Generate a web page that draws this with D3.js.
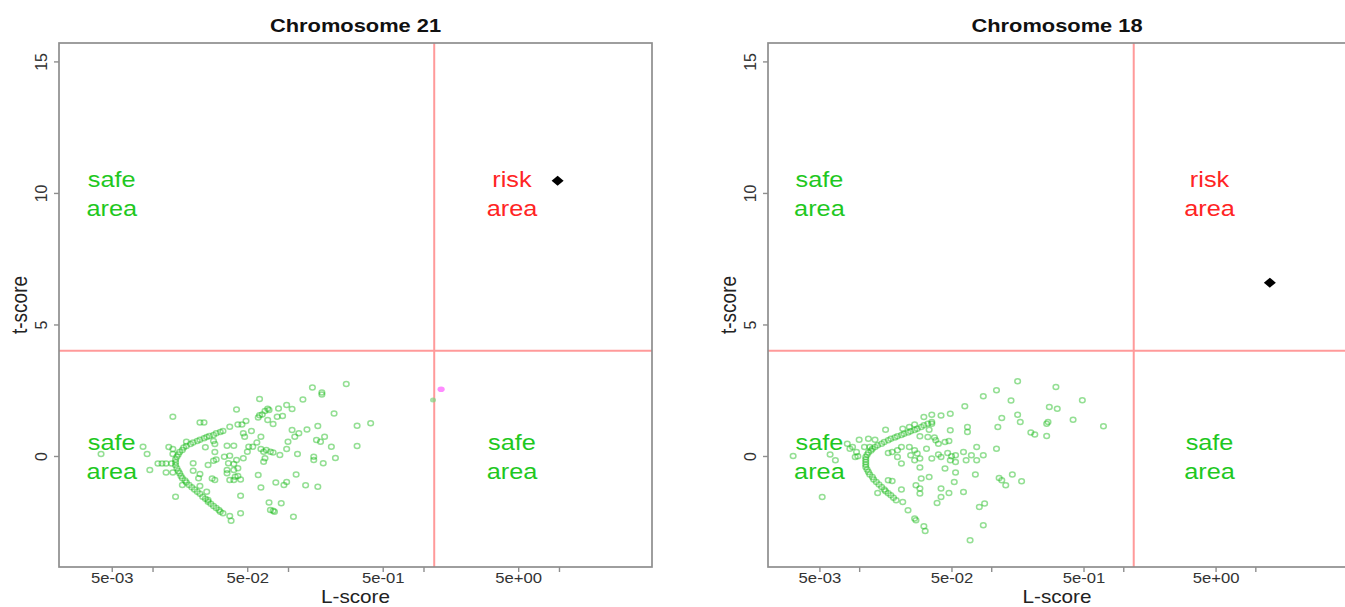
<!DOCTYPE html>
<html>
<head>
<meta charset="utf-8">
<script src="https://cdn.jsdelivr.net/npm/d3@7"></script>
<style>
  body { margin: 0; background: #fff; }
  svg { display: block; }
</style>
</head>
<body>
<svg id="chart" width="1345" height="607"></svg>
<script>
// values are [log10(L-score), t-score]
const chr21Curve = [
  [-1.48,0.95],[-1.50,0.91],[-1.53,0.86],[-1.55,0.80],[-1.58,0.76],[-1.60,0.72],[-1.62,0.67],[-1.65,0.62],
  [-1.67,0.57],[-1.70,0.51],[-1.72,0.46],[-1.75,0.38],[-1.77,0.32],[-1.78,0.23],[-1.80,0.15],[-1.81,0.06],
  [-1.82,-0.03],[-1.83,-0.13],[-1.83,-0.24],[-1.83,-0.35],[-1.82,-0.47],[-1.81,-0.57],[-1.80,-0.66],[-1.79,-0.76],
  [-1.78,-0.85],[-1.76,-0.93],[-1.75,-1.01],[-1.73,-1.10],[-1.71,-1.19],[-1.69,-1.27],[-1.67,-1.36],[-1.65,-1.44],
  [-1.63,-1.55],[-1.61,-1.63],[-1.59,-1.74],[-1.57,-1.82],[-1.55,-1.90],[-1.53,-1.98],[-1.51,-2.05],[-1.50,-2.12],
  [-1.48,-2.18]
];
const chr21Scatter = [
  [-2.38,0.08],[-2.07,0.35],[-2.04,0.08],[-2.02,-0.53],[-1.85,1.49],[-1.65,1.27],[-1.62,1.27],[-1.88,0.34],
  [-1.85,0.27],[-1.96,-0.29],[-1.93,-0.29],[-1.90,-0.29],[-1.86,-0.29],[-1.90,-0.63],[-1.85,-0.63],[-1.83,-1.55],
  [-1.78,-1.10],[-1.70,-0.28],[-1.70,-0.56],[-1.75,0.54],[-1.65,-0.68],[-1.66,-0.85],[-1.60,-1.36],[-1.59,-1.67],
  [-1.54,0.15],[-1.55,-0.18],[-1.55,0.57],[-1.54,0.46],[-1.61,0.33],[-1.56,-0.86],[-1.54,-0.91],[-1.65,-1.14],
  [-1.38,1.77],[-1.21,2.17],[-1.43,1.11],[-1.37,1.20],[-1.34,1.20],[-1.31,1.33],[-1.45,0.39],[-1.40,0.39],
  [-1.33,0.86],[-1.32,0.73],[-1.27,0.95],[-1.29,0.35],[-1.30,0.16],[-1.26,0.35],[-1.53,-0.13],[-1.47,-0.03],
  [-1.43,0.01],[-1.44,-0.28],[-1.40,-0.30],[-1.38,-0.15],[-1.37,-0.47],[-1.40,-0.53],[-1.45,-0.53],[-1.45,-0.66],
  [-1.43,-0.91],[-1.40,-0.91],[-1.39,-0.79],[-1.37,-0.76],[-1.35,-0.89],[-1.35,-1.51],[-1.35,-2.18],[-1.43,-2.28],
  [-1.42,-2.46],[-1.22,1.46],[-1.21,1.55],[-1.19,1.58],[-1.17,1.71],[-1.15,1.80],[-1.14,1.75],[-1.07,1.81],
  [-1.01,1.94],[-0.97,1.79],[-1.04,1.52],[-1.08,1.49],[-1.15,1.37],[-1.11,1.22],[-1.23,0.51],[-1.20,0.73],
  [-1.20,0.27],[-1.18,0.16],[-1.16,0.23],[-1.13,0.16],[-1.11,0.13],[-1.17,-0.09],[-1.18,-0.22],[-1.22,-0.72],
  [-1.20,-1.20],[-1.14,-1.77],[-1.13,-2.05],[-1.11,-2.08],[-1.10,-2.12],[-1.05,-1.80],[-1.09,-1.01],[-1.03,-1.10],
  [-1.01,-0.99],[-1.06,0.04],[-1.01,0.27],[-1.00,0.54],[-0.97,0.99],[-0.95,0.73],[-0.92,0.86],[-0.89,2.15],
  [-0.86,1.01],[-0.94,-0.70],[-0.96,-2.31],[-0.93,0.08],[-0.87,-1.11],[-0.82,2.60],[-0.75,2.41],[-0.75,2.34],
  [-0.57,2.74],[-0.66,1.62],[-0.78,1.14],[-0.79,0.61],[-0.76,0.54],[-0.73,0.73],[-0.81,-0.03],[-0.81,-0.15],
  [-0.74,-0.28],[-0.68,0.35],[-0.65,-0.08],[-0.78,-1.17],[-0.49,1.15],[-0.39,1.24],[-0.49,0.38],[-1.33,-0.09],
  [-1.59,-0.34],[-1.85,0.08]
];
const chr21Faint = [[0.07,2.13]];
const chr21Flagged = [[0.13,2.54]];
const chr21Marker = [0.99,10.46];

const chr18Curve = [
  [-1.45,1.29],[-1.45,1.23],[-1.48,1.23],[-1.51,1.17],[-1.53,1.10],[-1.56,1.04],[-1.58,0.99],[-1.61,0.94],
  [-1.63,0.89],[-1.66,0.85],[-1.68,0.80],[-1.71,0.75],[-1.73,0.70],[-1.76,0.66],[-1.78,0.60],[-1.81,0.53],
  [-1.83,0.47],[-1.86,0.41],[-1.88,0.34],[-1.90,0.28],[-1.91,0.21],[-1.93,0.13],[-1.94,0.05],[-1.95,-0.04],
  [-1.95,-0.13],[-1.95,-0.23],[-1.95,-0.32],[-1.95,-0.42],[-1.94,-0.51],[-1.93,-0.61],[-1.92,-0.70],[-1.90,-0.80],
  [-1.89,-0.89],[-1.87,-0.99],[-1.85,-1.08],[-1.83,-1.18],[-1.81,-1.27],[-1.80,-1.34],[-1.78,-1.42],[-1.76,-1.49],
  [-1.74,-1.59],[-1.72,-1.68]
];
const chr18Scatter = [
  [-2.50,0.00],[-2.28,-1.56],[-2.22,0.06],[-2.18,-0.16],[-2.09,0.47],[-2.07,0.28],[-2.05,0.34],[-2.02,0.15],
  [-2.01,-0.01],[-2.03,-0.04],[-2.00,0.62],[-1.93,0.66],[-1.88,0.62],[-1.96,0.34],[-1.92,0.34],[-1.86,-1.41],
  [-1.80,1.00],[-1.78,-0.92],[-1.75,-0.95],[-1.78,0.11],[-1.75,0.15],[-1.71,0.22],[-1.68,0.34],[-1.71,-0.04],
  [-1.68,-0.29],[-1.62,0.34],[-1.61,0.03],[-1.58,0.22],[-1.56,0.09],[-1.54,-0.10],[-1.58,-0.16],[-1.68,-1.27],
  [-1.67,-1.75],[-1.63,-2.06],[-1.58,-2.38],[-1.57,-2.44],[-1.57,-1.11],[-1.54,-1.24],[-1.54,-1.43],[-1.53,-0.86],
  [-1.54,0.75],[-1.48,0.72],[-1.43,0.70],[-1.42,0.60],[-1.40,0.47],[-1.40,0.06],[-1.38,-0.04],[-1.33,0.11],
  [-1.30,-0.01],[-1.27,-0.23],[-1.31,-0.16],[-1.51,1.48],[-1.45,1.57],[-1.38,1.54],[-1.31,1.61],[-1.47,1.00],
  [-1.51,-2.67],[-1.50,-2.85],[-1.41,-1.79],[-1.38,-1.56],[-1.38,-1.24],[-1.32,-1.41],[-1.28,-0.99],[-1.27,-0.63],
  [-1.21,-1.37],[-1.31,0.98],[-1.20,1.89],[-1.18,1.10],[-1.18,0.91],[-1.21,0.15],[-1.19,-0.16],[-1.15,0.03],
  [-1.11,-0.16],[-1.11,0.34],[-1.12,-0.70],[-1.06,2.27],[-0.96,2.50],[-0.85,2.11],[-0.80,2.84],[-0.92,1.44],
  [-0.95,1.10],[-0.80,1.57],[-0.78,1.29],[-0.96,0.28],[-1.06,0.03],[-1.09,-1.94],[-1.05,-1.81],[-1.06,-2.63],
  [-1.16,-3.20],[-0.94,-0.84],[-0.92,-0.92],[-0.89,-1.11],[-0.84,-0.70],[-0.77,-0.96],[-0.70,0.89],[-0.67,0.82],
  [-0.58,1.23],[-0.57,1.29],[-0.58,0.76],[-0.56,1.86],[-0.50,1.80],[-0.51,2.62],[-0.38,1.38],[-0.31,2.12],
  [-0.15,1.13],[-1.67,1.04],[-1.62,1.10],[-1.58,1.20],[-1.47,-0.80],[-1.35,-0.48],[-1.45,-0.10],[-1.35,0.53],
  [-1.32,0.57],[-1.27,0.03],[-1.49,0.28],[-1.54,-0.44]
];
const chr18Marker = [1.11,6.59];

const xTicks = [5e-3, 1e-2, 5e-2, 1e-1, 5e-1, 1, 5, 10];
const xTickLabels = ['5e-03', '', '5e-02', '', '5e-01', '', '5e+00', ''];
const yTicks = [0, 5, 10, 15];
const lThreshold = 1.2;
const tThreshold = 4;

// text for the four quadrants: [L position, t position, word 1, word 2, risky?]
const areaLabels = [
  [5e-3, 10, 'safe', 'area', false],
  [4.5, 10, 'risk', 'area', true],
  [5e-3, 0, 'safe', 'area', false],
  [4.5, 0, 'safe', 'area', false]
];

const FONT = '"Liberation Sans", Arial, Helvetica, sans-serif';
const SX = 1.15; // the source figure is stretched sideways
const plotTop = 43, plotBottom = 567;

const svg = d3.select('#chart');

const panels = [
  { title: 'Chromosome 21', curve: chr21Curve, scatter: chr21Scatter, faint: chr21Faint, flagged: chr21Flagged, marker: chr21Marker, left: 59, right: 652 },
  { title: 'Chromosome 18', curve: chr18Curve, scatter: chr18Scatter, faint: [], flagged: [], marker: chr18Marker, left: 768, right: 1346 }
];

const label = (g, x, y, str, size, color, weight, rot) =>
  g.append('text')
    .attr('transform', `translate(${x},${y}) scale(${SX},1)` + (rot ? ' rotate(-90)' : ''))
    .attr('text-anchor', 'middle')
    .attr('font-family', FONT)
    .attr('font-size', size)
    .attr('font-weight', weight || 'normal')
    .attr('fill', color)
    .text(str);

panels.forEach(p => {
  const x = d3.scaleLog().domain([2.04e-3, 48.6]).range([p.left, p.right]);
  const y = d3.scaleLinear().domain([-4.22, 15.7]).range([plotBottom, plotTop]);
  const lx = v => x(Math.pow(10, v));
  const g = svg.append('g');

  // cut-off lines
  g.append('line')
    .attr('x1', x(lThreshold)).attr('x2', x(lThreshold)).attr('y1', plotTop).attr('y2', plotBottom)
    .attr('stroke', '#ff9a9a').attr('stroke-width', 2);
  g.append('line')
    .attr('x1', p.left).attr('x2', p.right).attr('y1', y(tThreshold)).attr('y2', y(tThreshold))
    .attr('stroke', '#ff9a9a').attr('stroke-width', 2);

  // area labels
  areaLabels.forEach(a => {
    const col = a[4] ? '#ff2424' : '#1fc81f';
    label(g, x(a[0]), y(a[1]) - 6, a[2], 22, col);
    label(g, x(a[0]), y(a[1]) + 23, a[3], 22, col);
  });

  // samples
  g.selectAll('ellipse.pt')
    .data(p.curve.concat(p.scatter))
    .join('ellipse')
    .attr('class', 'pt')
    .attr('cx', d => lx(d[0]))
    .attr('cy', d => y(d[1]))
    .attr('rx', 2.8).attr('ry', 2.5)
    .attr('fill', 'none')
    .attr('stroke', '#12b812')
    .attr('stroke-opacity', 0.45)
    .attr('stroke-width', 1.5);

  g.selectAll('ellipse.faint')
    .data(p.faint)
    .join('ellipse')
    .attr('class', 'faint')
    .attr('cx', d => lx(d[0])).attr('cy', d => y(d[1]))
    .attr('rx', 3).attr('ry', 2.5)
    .attr('fill', '#7fd47f').attr('fill-opacity', 0.7);

  g.selectAll('ellipse.flag')
    .data(p.flagged)
    .join('ellipse')
    .attr('class', 'flag')
    .attr('cx', d => lx(d[0])).attr('cy', d => y(d[1]))
    .attr('rx', 3.6).attr('ry', 2.8)
    .attr('fill', '#ff8cff');

  // the tested sample
  g.append('path')
    .attr('d', 'M0,-5L6,0L0,5L-6,0Z')
    .attr('transform', `translate(${lx(p.marker[0])},${y(p.marker[1])})`)
    .attr('fill', '#000');

  // frame
  g.append('rect')
    .attr('x', p.left).attr('y', plotTop)
    .attr('width', p.right - p.left).attr('height', plotBottom - plotTop)
    .attr('fill', 'none').attr('stroke', '#8e8e8e').attr('stroke-width', 1.7);

  const xa = g.append('g')
    .attr('transform', `translate(0,${plotBottom})`)
    .call(d3.axisBottom(x).tickValues(xTicks).tickFormat((d, i) => xTickLabels[i]).tickSize(5).tickPadding(1));
  xa.select('.domain').remove();
  xa.selectAll('line').attr('stroke', '#8e8e8e').attr('stroke-width', 1.4);
  xa.selectAll('text')
    .attr('font-family', FONT).attr('font-size', 14.5).attr('fill', '#333')
    .attr('transform', `scale(${SX},1)`);

  const ya = g.append('g')
    .attr('transform', `translate(${p.left},0)`)
    .call(d3.axisLeft(y).tickValues(yTicks).tickSize(5));
  ya.select('.domain').remove();
  ya.selectAll('line').attr('stroke', '#8e8e8e').attr('stroke-width', 1.4);
  ya.selectAll('text')
    .attr('font-family', FONT).attr('font-size', 16).attr('fill', '#333')
    .attr('x', 0).attr('y', -12).attr('dy', 0)
    .attr('text-anchor', 'middle')
    .attr('transform', 'rotate(-90)');

  const cx = (p.left + p.right) / 2;
  label(g, cx, 32, p.title, 19, '#111', 'bold');
  label(g, cx, 603, 'L-score', 18, '#222');
  label(g, p.left - 32, (plotTop + plotBottom) / 2, 't-score', 19, '#222', 'normal', true);
});
</script>
</body>
</html>
